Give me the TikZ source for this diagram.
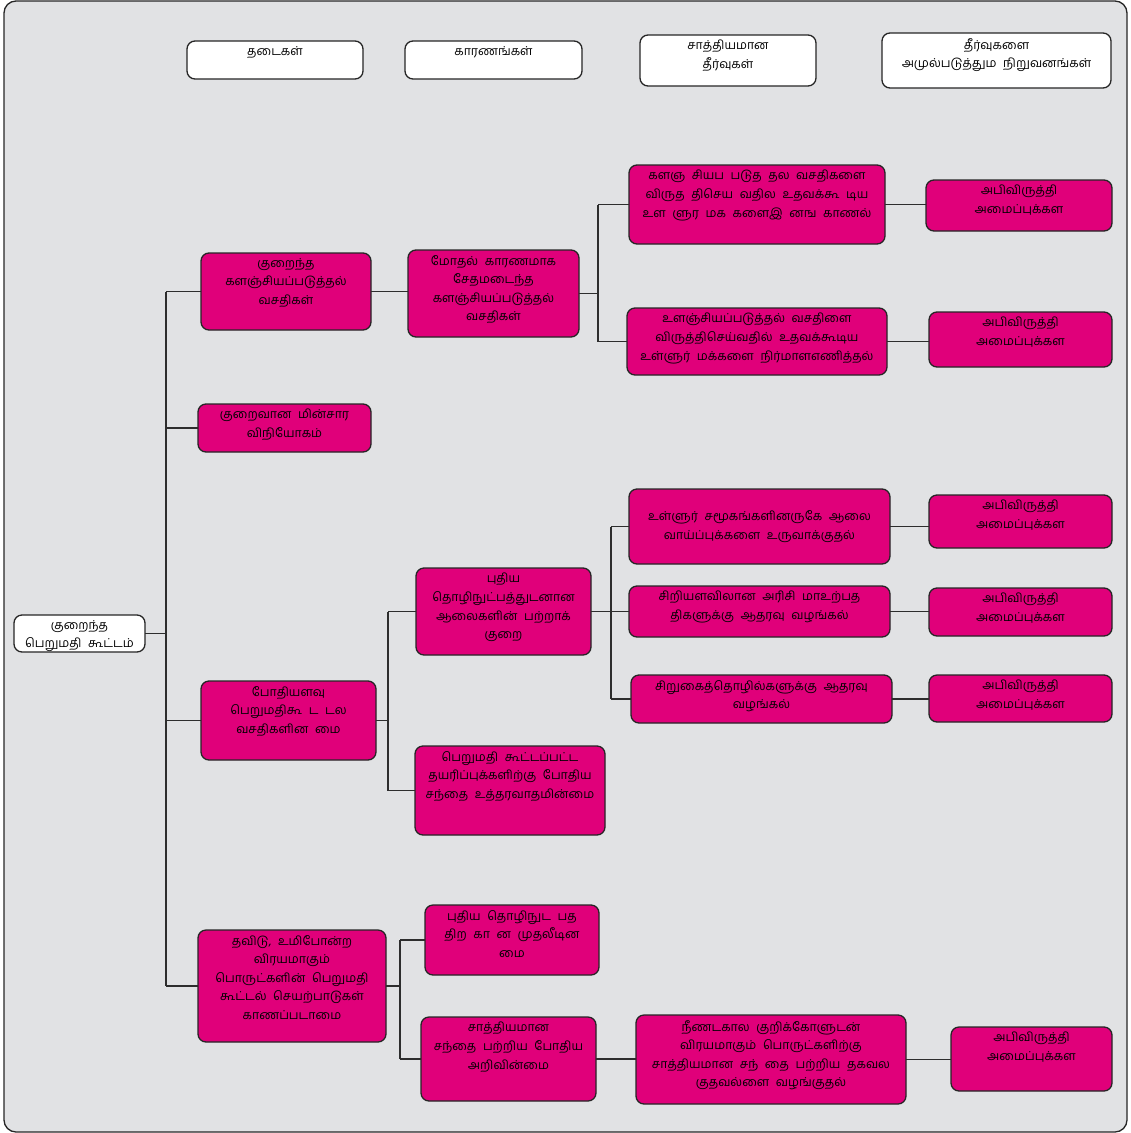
\documentclass[tikz,border=0pt]{standalone}
\usepackage{fontspec}
\setmainfont[Script=Tamil, WordSpace=2.2]{Hind Madurai}
\definecolor{mag}{RGB}{224,0,122}
\definecolor{bgc}{RGB}{225,226,228}
\definecolor{lnc}{RGB}{45,45,45}
\tikzset{
  bx/.style={draw=black!85, line width=1.3pt, rounded corners=8pt, inner sep=0pt, outer sep=0pt},
  mbox/.style={bx, fill=mag},
  wbox/.style={bx, fill=white},
  txt/.style={align=center, inner sep=0pt, font=\fontsize{12.3}{18.6}\selectfont},
  conn/.style={draw=lnc, line width=1.4pt}
}
\newcommand{\mybox}[7]{%
  \node[#6, minimum width={(#4-#2)*1pt}, minimum height={(#5-#3)*1pt}] (#1) at ({(#2+#4)/2},{(#3+#5)/2}) {};
  \node[txt, anchor=north] (#1t) at ([yshift=-5pt]#1.north) {#7};
}
\newcommand{\myboxc}[7]{%
  \node[#6, minimum width={(#4-#2)*1pt}, minimum height={(#5-#3)*1pt}] (#1) at ({(#2+#4)/2},{(#3+#5)/2}) {};
  \node[txt] (#1t) at (#1.center) {#7};
}
\begin{document}
\begin{tikzpicture}[x=1pt,y=-1pt]
\useasboundingbox (0,0) rectangle (1131,1133);
\draw[fill=bgc, draw=black!85, line width=1.3pt, rounded corners=12pt] (4,1) rectangle (1127,1132);

% headers
\mybox{h1}{187}{41}{363}{79}{wbox}{தடைகள்}
\mybox{h2}{405}{41}{582}{79}{wbox}{காரணங்கள்}
\mybox{h3}{640}{35}{816}{86}{wbox}{சாத்தியமான\\தீர்வுகள்}
\mybox{h4}{882}{33}{1111}{88}{wbox}{தீர்வுகளை\\அமுல்படுத்தும நிறுவனங்கள்}

% root
\mybox{root}{14}{615}{145}{652}{wbox}{குறைந்த\\பெறுமதி கூட்டம்}

% level 1
\mybox{a1}{201}{253}{371}{330}{mbox}{குறைந்த\\களஞ்சியப்படுத்தல்\\வசதிகள்}
\mybox{a2}{198}{404}{371}{452}{mbox}{குறைவான மின்சார\\விநியோகம்}
\mybox{a3}{201}{681}{376}{760}{mbox}{போதியளவு\\பெறுமதிகூ ட டல\\வசதிகளின மை}
\mybox{a4}{198}{930}{386}{1042}{mbox}{தவிடு, உமிபோன்ற\\விரயமாகும்\\பொருட்களின் பெறுமதி\\கூட்டல் செயற்பாடுகள்\\காணப்படாமை}

% level 2
\mybox{b1}{408}{250}{579}{337}{mbox}{மோதல் காரணமாக\\சேதமடைந்த\\களஞ்சியப்படுத்தல்\\வசதிகள்}
\mybox{b2}{416}{568}{591}{655}{mbox}{புதிய\\தொழிநுட்பத்துடனான\\ஆலைகளின் பற்றாக்\\குறை}
\mybox{b3}{415}{746}{605}{835}{mbox}{பெறுமதி கூட்டப்பட்ட\\தயரிப்புக்களிற்கு போதிய\\சந்தை உத்தரவாதமின்மை}
\mybox{b4}{425}{905}{599}{975}{mbox}{புதிய தொழிநுட பத\\திற கா ன முதலீடின\\மை}
\mybox{b5}{421}{1017}{596}{1101}{mbox}{சாத்தியமான\\சந்தை பற்றிய போதிய\\அறிவின்மை}

% level 3
\mybox{c1}{629}{165}{885}{244}{mbox}{களஞ சியப படுத தல வசதிகளை\\விருத திசெய வதில உதவக்கூ டிய\\உள ளுர மக களைஇ னங காணல்}
\mybox{c2}{627}{308}{887}{375}{mbox}{உளஞ்சியப்படுத்தல் வசதிளை\\விருத்திசெய்வதில் உதவக்கூடிய\\உள்ளுர் மக்களை நிர்மாளஎணித்தல்}
\myboxc{c3}{629}{489}{890}{564}{mbox}{உள்ளுர் சமூகங்களினருகே ஆலை\\வாய்ப்புக்களை உருவாக்குதல்}
\mybox{c4}{629}{586}{890}{637}{mbox}{சிறியளவிலான அரிசி மாஉற்பத\\திகளுக்கு ஆதரவு வழங்கல்}
\mybox{c5}{631}{675}{892}{723}{mbox}{சிறுகைத்தொழில்களுக்கு ஆதரவு\\வழங்கல்}
\mybox{c6}{636}{1015}{906}{1104}{mbox}{நீணடகால குறிக்கோளுடன்\\விரயமாகும் பொருட்களிற்கு\\சாத்தியமான சந் தை பற்றிய தகவல\\குதவல்ளை வழங்குதல்}

% level 4
\mybox{d1}{926}{180}{1112}{231}{mbox}{அபிவிருத்தி\\அமைப்புக்கள}
\mybox{d2}{929}{312}{1112}{367}{mbox}{அபிவிருத்தி\\அமைப்புக்கள}
\mybox{d3}{929}{495}{1112}{548}{mbox}{அபிவிருத்தி\\அமைப்புக்கள}
\mybox{d4}{929}{588}{1112}{636}{mbox}{அபிவிருத்தி\\அமைப்புக்கள}
\mybox{d5}{929}{675}{1112}{722}{mbox}{அபிவிருத்தி\\அமைப்புக்கள}
\mybox{d6}{951}{1027}{1112}{1091}{mbox}{அபிவிருத்தி\\அமைப்புக்கள}

% junction columns
\coordinate (t0) at (166,0);
\coordinate (t3) at (388,0);
\coordinate (t4) at (400,0);
\coordinate (u1) at (598,0);
\coordinate (u2) at (611,0);

% trunk
\draw[conn] (t0 |- a1.west) -- (t0 |- a4.west);
\draw[conn] (root.east) -- (t0 |- root.east);
\foreach \n in {a1,a2,a3,a4} \draw[conn] (\n.west) -- (t0 |- \n.west);

% a1 -> b1
\draw[conn] (a1.east) -- (a1.east -| b1.west);
% a3 -> b2, b3
\draw[conn] (a3.east) -- (t3 |- a3.east);
\draw[conn] (t3 |- b2.west) -- (t3 |- b3.west);
\foreach \n in {b2,b3} \draw[conn] (\n.west) -- (t3 |- \n.west);
% a4 -> b4, b5
\draw[conn] (a4.east) -- (t4 |- a4.east);
\draw[conn] (t4 |- b4.west) -- (t4 |- b5.west);
\foreach \n in {b4,b5} \draw[conn] (\n.west) -- (t4 |- \n.west);
% b1 -> c1, c2
\draw[conn] (b1.east) -- (u1 |- b1.east);
\draw[conn] (u1 |- c1.west) -- (u1 |- c2.west);
\foreach \n in {c1,c2} \draw[conn] (\n.west) -- (u1 |- \n.west);
% b2 -> c3, c4, c5
\draw[conn] (b2.east) -- (u2 |- b2.east);
\draw[conn] (u2 |- c3.west) -- (u2 |- c5.west);
\foreach \n in {c3,c4,c5} \draw[conn] (\n.west) -- (u2 |- \n.west);
% b5 -> c6
\draw[conn] (b5.east) -- (b5.east -| c6.west);
% c -> d
\foreach \c/\d in {c1/d1,c2/d2,c3/d3,c4/d4,c5/d5,c6/d6} \draw[conn] (\c.east) -- (\c.east -| \d.west);
\end{tikzpicture}
\end{document}
